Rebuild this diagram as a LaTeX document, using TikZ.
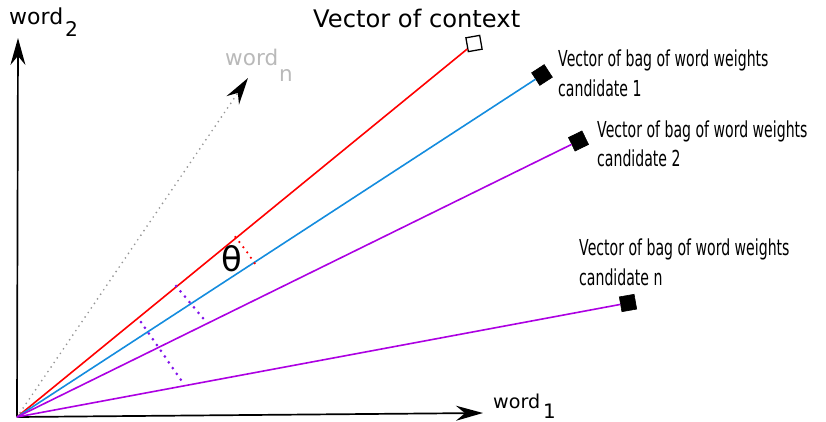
\documentclass[tikz,border=0pt]{standalone}
\usepackage{fontspec}
\usepackage{graphicx}
\setmainfont{DejaVu Sans}
\newfontfamily\condfont[FakeStretch=0.64]{DejaVu Sans}
\usetikzlibrary{arrows.meta}
\definecolor{vred}{RGB}{255,0,0}
\definecolor{vblue}{RGB}{20,140,222}
\definecolor{vpurple}{RGB}{172,0,226}
\definecolor{dotpurple}{RGB}{130,20,235}
\definecolor{vgray}{RGB}{150,150,150}
\definecolor{lgray}{RGB}{185,185,185}
\tikzset{
  axisline/.style={line width=1.7pt, -{Stealth[length=27pt,width=15pt,inset=9pt]}},
  vecline/.style={line width=1.6pt},
  blackbox/.style={draw=black, fill=black, minimum size=15pt, inner sep=0pt, line width=0.6pt},
  hollowbox/.style={draw=black, fill=white, minimum size=14pt, inner sep=0pt, line width=1.3pt},
  purpledots/.style={draw=dotpurple, line width=3pt, dash pattern=on 0pt off 7pt, line cap=round},
  reddots/.style={draw=vred, line width=2.5pt, dash pattern=on 0pt off 6.5pt, line cap=round},
  graydots/.style={draw=vgray, line width=1.9pt, dash pattern=on 0pt off 5.5pt, line cap=round},
  candlbl/.style={font=\condfont\fontsize{22}{26}\selectfont, anchor=base west, inner sep=0pt},
  wordlbl/.style={anchor=base west, inner sep=0pt}
}
\begin{document}
\begin{tikzpicture}[x=1pt,y=-1pt]
\useasboundingbox (0,0) rectangle (826,422);
% origin and axis tips
\coordinate (O) at (17,417);
\coordinate (xtip) at (483,413);
\coordinate (ytip) at (18,38);
\coordinate (ntip) at (248,78);
% vector end boxes
\node[hollowbox, rotate=10] (ctx) at (474,43.5) {};
\node[blackbox, rotate=33] (c1) at (542,75) {};
\node[blackbox, rotate=26] (c2) at (578.5,141) {};
\node[blackbox, rotate=10] (cn) at (628,303) {};
% axes
\draw[axisline] (O) -- (xtip);
\draw[axisline] (O) -- (ytip);
\draw[graydots, -{Stealth[black,length=27pt,width=15pt,inset=9pt]}] (O) -- (ntip);
% vectors
\draw[vecline, vred] (O) -- (ctx);
\draw[vecline, vblue] (O) -- (c1);
\draw[vecline, vpurple] (O) -- (c2);
\draw[vecline, vpurple] (O) -- (cn);
% angle
\draw[reddots] ([shift={(-39.5:283)}]O) arc[start angle=-39.5, end angle=-32, radius=283];
\node[inner sep=0pt] (theta) at (231.5,259) {\resizebox{!}{26pt}{θ}};
% projections
\coordinate (p1a) at (176,286);
\coordinate (p1b) at (207,323);
\coordinate (p2a) at (141,322);
\coordinate (p2b) at (181,380);
\draw[purpledots] (p1a) -- (p1b);
\draw[purpledots] (p2a) -- (p2b);
% axis labels
\node[wordlbl] (w2) at (9,25) {\resizebox{54pt}{!}{word}\hspace{2pt}\raisebox{-12pt}{\resizebox{!}{15pt}{2}}};
\node[wordlbl, text=lgray] (wn) at (225,66) {\resizebox{53pt}{!}{word}\hspace{1pt}\raisebox{-16pt}{\resizebox{!}{12pt}{n}}};
\node[wordlbl] (w1) at (493,408) {\resizebox{47pt}{!}{word}\hspace{3pt}\raisebox{-10pt}{\resizebox{!}{14.5pt}{1}}};
% vector labels
\node[wordlbl] (ctxlbl) at (313,28) {\resizebox{207pt}{!}{Vector of context}};
\node[candlbl] (c1a) at (558,67) {Vector of bag of word weights};
\node[candlbl] (c1b) at (558,97) {candidate 1};
\node[candlbl] (c2a) at (597,138) {Vector of bag of word weights};
\node[candlbl] (c2b) at (597,167) {candidate 2};
\node[candlbl] (cna) at (579,255) {Vector of bag of word weights};
\node[candlbl] (cnb) at (579,285) {candidate n};
\end{tikzpicture}
\end{document}
